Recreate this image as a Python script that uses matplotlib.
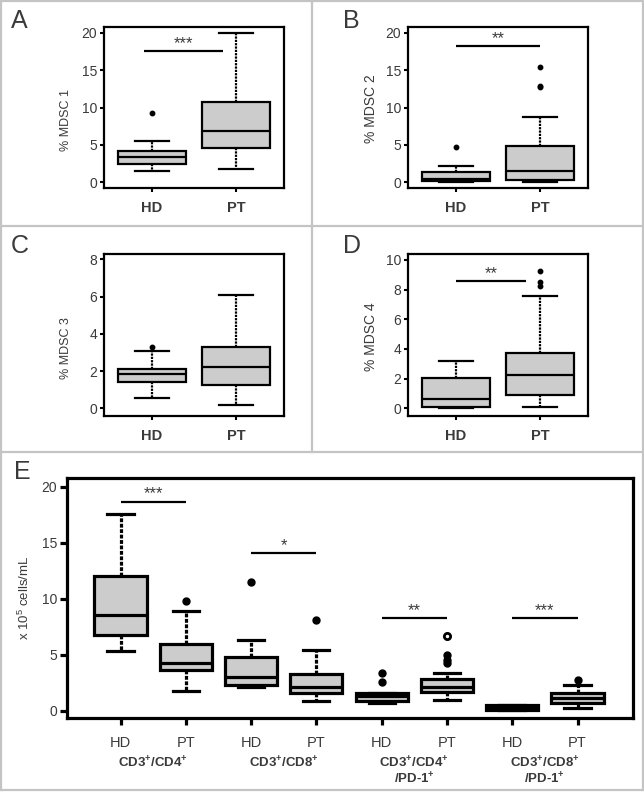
import matplotlib
matplotlib.use("Agg")
import matplotlib.pyplot as plt
import matplotlib.transforms as mtransforms
from matplotlib.lines import Line2D

plt.rcParams['font.family'] = ['Liberation Sans', 'DejaVu Sans']
plt.rcParams['mathtext.fontset'] = 'custom'
plt.rcParams['mathtext.rm'] = 'Liberation Sans'
plt.rcParams['mathtext.bf'] = 'Liberation Sans:bold'
plt.rcParams['mathtext.it'] = 'Liberation Sans:italic'

W, H = 644, 792
TXT = '#3a3a3a'
FILL = '#cccccc'
GRID = '#c4c4c4'

# box summaries: whisker low, q1, median, q3, whisker high
groups = ['HD', 'PT']

mdsc1_hd = [1.5, 2.4, 3.4, 4.2, 5.5]
mdsc1_hd_out = [9.2]
mdsc1_pt = [1.7, 4.6, 6.9, 10.8, 20.0]
mdsc1_pt_out = []

mdsc2_hd = [0.0, 0.1, 0.4, 1.4, 2.2]
mdsc2_hd_out = [4.7]
mdsc2_pt = [0.05, 0.3, 1.5, 4.9, 8.7]
mdsc2_pt_out = [12.7, 12.9, 15.5]

mdsc3_hd = [0.55, 1.43, 1.84, 2.13, 3.1]
mdsc3_hd_out = [3.27]
mdsc3_pt = [0.18, 1.23, 2.2, 3.27, 6.1]
mdsc3_pt_out = []

mdsc4_hd = [0.02, 0.08, 0.65, 2.05, 3.2]
mdsc4_hd_out = []
mdsc4_pt = [0.07, 0.92, 2.25, 3.75, 7.55]
mdsc4_pt_out = [8.25, 8.5, 9.28]

# panel E, absolute counts (x 10^5 cells/mL)
e_groups = ['CD3$^{\\mathbf{+}}$/CD4$^{\\mathbf{+}}$',
            'CD3$^{\\mathbf{+}}$/CD8$^{\\mathbf{+}}$',
            'CD3$^{\\mathbf{+}}$/CD4$^{\\mathbf{+}}$\n/PD-1$^{\\mathbf{+}}$',
            'CD3$^{\\mathbf{+}}$/CD8$^{\\mathbf{+}}$\n/PD-1$^{\\mathbf{+}}$']
cd4_hd = [5.37, 6.8, 8.55, 12.07, 17.6]
cd4_hd_out = []
cd4_pt = [1.76, 3.67, 4.3, 6.0, 8.94]
cd4_pt_out = [9.84]
cd8_hd = [2.1, 2.3, 3.0, 4.8, 6.35]
cd8_hd_out = [11.5]
cd8_pt = [0.92, 1.64, 2.1, 3.3, 5.45]
cd8_pt_out = [8.1]
cd4pd1_hd = [0.69, 0.92, 1.3, 1.64, 1.64]
cd4pd1_hd_out = [2.57, 3.37]
cd4pd1_pt = [0.98, 1.7, 2.12, 2.84, 3.37]
cd4pd1_pt_out = [4.26, 4.56, 5.0]
cd4pd1_pt_open = [6.65]
cd8pd1_hd = [0.08, 0.12, 0.3, 0.5, 0.55]
cd8pd1_hd_out = []
cd8pd1_pt = [0.3, 0.69, 1.14, 1.58, 2.3]
cd8pd1_pt_out = [2.77]

# significance: (x start, x end, height, label)
sig_a = (0.9, 1.85, 17.6, '***')
sig_b = (1.0, 2.0, 18.2, '**')
sig_d = (1.0, 1.83, 8.6, '**')
sig_e = [(1.0, 2.0, 18.7, '***'), (3.0, 4.0, 14.1, '*'),
         (5.0, 6.0, 8.3, '**'), (7.0, 8.0, 8.3, '***')]


def stats(five, fliers):
    lo, q1, med, q3, hi = five
    return dict(whislo=lo, q1=q1, med=med, q3=q3, whishi=hi, fliers=fliers)


def rect(x0, y0, x1, y1):
    return [x0 / W, 1 - y1 / H, (x1 - x0) / W, (y1 - y0) / H]


def draw_boxes(ax, st, lw, dash, ms):
    ax.bxp(st, positions=range(1, len(st) + 1), widths=0.8,
           patch_artist=True,
           boxprops=dict(facecolor=FILL, edgecolor='black', linewidth=lw),
           medianprops=dict(color='black', linewidth=lw),
           whiskerprops=dict(color='black', linewidth=lw, linestyle=dash),
           capprops=dict(color='black', linewidth=lw),
           flierprops=dict(marker='o', markerfacecolor='black',
                           markeredgecolor='black', markersize=ms,
                           linestyle='none'))


def sig_bar(ax, x0, x1, y, label, lw, fs):
    ax.plot([x0, x1], [y, y], color='black', lw=lw, solid_capstyle='butt')
    ax.text((x0 + x1) / 2, y, label, ha='center', va='bottom',
            fontsize=fs, color=TXT)


fig = plt.figure(figsize=(W / 100, H / 100), dpi=100)

# panel frame lines
frame = [((1, 1), (643, 1)), ((1, 1), (1, 790)), ((643, 1), (643, 790)),
         ((1, 790), (643, 790)), ((312, 1), (312, 452)),
         ((1, 226), (643, 226)), ((1, 452), (643, 452))]
for (xa, ya), (xb, yb) in frame:
    fig.add_artist(Line2D([xa / W, xb / W], [1 - ya / H, 1 - yb / H],
                          transform=fig.transFigure, color=GRID, lw=1.6))


def small_panel(box, hd, hd_out, pt, pt_out, ylim, yticks, ylabel,
                lab_fs, lab_pos, letter, letter_xy, sig=None):
    ax = fig.add_axes(rect(*box))
    draw_boxes(ax, [stats(hd, hd_out), stats(pt, pt_out)], 1.6,
               (0, (1, 0.5)), 3.2)
    ax.set_xlim(0.43, 2.57)
    ax.set_ylim(*ylim)
    ax.set_yticks(yticks)
    ax.set_xticks([1, 2])
    ax.set_xticklabels(groups, fontweight='bold', fontsize=10.5, color=TXT)
    ax.tick_params(axis='y', labelsize=10, labelcolor=TXT, length=3,
                   width=1.5, pad=2)
    ax.tick_params(axis='x', length=3, width=1.5, pad=6)
    for s in ax.spines.values():
        s.set_linewidth(1.6)
    ax.set_ylabel(ylabel, fontsize=lab_fs, color=TXT)
    ax.yaxis.set_label_coords(*lab_pos)
    if sig is not None:
        sig_bar(ax, *sig, lw=1.6, fs=12)
    fig.text(letter_xy[0] / W, 1 - letter_xy[1] / H, letter, fontsize=18,
             color=TXT, ha='left', va='top')
    return ax


small_panel((104, 27, 284, 188), mdsc1_hd, mdsc1_hd_out, mdsc1_pt,
            mdsc1_pt_out, (-0.8, 20.8), [0, 5, 10, 15, 20], '% MDSC 1',
            9, (-0.18, 0.42), 'A', (11, 9), sig_a)
small_panel((408, 27, 588, 188), mdsc2_hd, mdsc2_hd_out, mdsc2_pt,
            mdsc2_pt_out, (-0.8, 20.8), [0, 5, 10, 15, 20], '% MDSC 2',
            10, (-0.167, 0.49), 'B', (343, 9), sig_b)
small_panel((104, 254, 284, 416), mdsc3_hd, mdsc3_hd_out, mdsc3_pt,
            mdsc3_pt_out, (-0.41, 8.28), [0, 2, 4, 6, 8], '% MDSC 3',
            9, (-0.18, 0.42), 'C', (11, 234), None)
small_panel((408, 254, 588, 416), mdsc4_hd, mdsc4_hd_out, mdsc4_pt,
            mdsc4_pt_out, (-0.52, 10.4), [0, 2, 4, 6, 8, 10], '% MDSC 4',
            10, (-0.167, 0.49), 'D', (343, 234), sig_d)

# panel E
axe = fig.add_axes(rect(67, 478, 633, 718))
e_stats = [stats(cd4_hd, cd4_hd_out), stats(cd4_pt, cd4_pt_out),
           stats(cd8_hd, cd8_hd_out), stats(cd8_pt, cd8_pt_out),
           stats(cd4pd1_hd, cd4pd1_hd_out), stats(cd4pd1_pt, cd4pd1_pt_out),
           stats(cd8pd1_hd, cd8pd1_hd_out), stats(cd8pd1_pt, cd8pd1_pt_out)]
draw_boxes(axe, e_stats, 2.3, (0, (1.2, 0.5)), 5)
axe.plot([6] * len(cd4pd1_pt_open), cd4pd1_pt_open, 'o', ms=4.5,
         mfc='white', mec='black', mew=2)
axe.set_xlim(0.18, 8.85)
axe.set_ylim(-0.63, 20.8)
axe.set_yticks([0, 5, 10, 15, 20])
axe.set_xticks(range(1, 9))
axe.set_xticklabels(groups * 4, fontsize=10.5, color=TXT)
axe.tick_params(axis='y', labelsize=10, labelcolor=TXT, length=5,
                width=2.3, pad=2)
axe.tick_params(axis='x', length=5, width=2.3, pad=8)
for s in axe.spines.values():
    s.set_linewidth(2.3)
axe.set_ylabel('x 10$^5$ cells/mL', fontsize=9.5, color=TXT)
axe.yaxis.set_label_coords(-0.062, 0.5)
for x0, x1, y, lab in sig_e:
    sig_bar(axe, x0, x1, y, lab, lw=1.6, fs=12)
trans = mtransforms.blended_transform_factory(axe.transData, axe.transAxes)
for i, g in enumerate(e_groups):
    axe.text(2 * i + 1.5, -0.155, g, transform=trans, ha='center', va='top',
             fontsize=9.5, fontweight='bold', color=TXT, linespacing=1.1)
fig.text(14 / W, 1 - 460 / H, 'E', fontsize=18, color=TXT,
         ha='left', va='top')

fig.savefig('out.png', dpi=100)
